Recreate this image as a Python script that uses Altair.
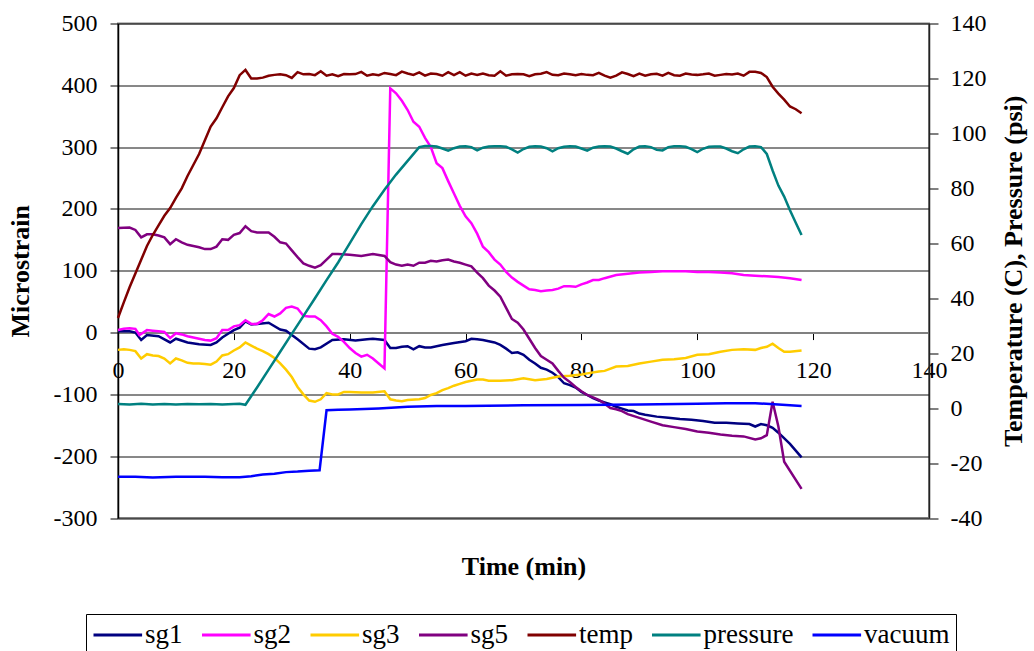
import altair as alt
import pandas as pd

# ---------------- data ----------------
sg1_t = [0, 2, 3, 4, 5, 7, 9, 10, 12, 14, 16, 17, 18, 19, 20, 21, 22, 23, 24, 26, 28, 29, 31, 33, 34, 35, 37, 39, 41, 43, 44, 46, 47, 48, 49, 50, 51, 52,
         53, 54, 56, 58, 60, 61, 62, 63, 64, 65, 66, 67, 68, 69, 70, 71, 72, 73, 74, 75, 76, 77, 78, 79, 80, 81, 82, 83, 84, 85, 86, 87, 88, 89, 90, 91,
         93, 95, 97, 99, 101, 103, 105, 107, 109, 110, 111, 112, 113, 114, 116, 118]
sg1_v = [2, 2, 0, -12, -4, -6, -16, -10, -16, -19, -20, -16, -8, -2, 4, 8, 18, 13, 14, 16, 5, 3, -11, -26, -27, -24, -12, -11, -13, -11, -10, -12, -25, -25, -23, -22, -27, -22,
         -24, -24, -20, -17, -14, -10, -11, -12, -14, -16, -20, -26, -33, -32, -36, -44, -50, -57, -60, -65, -72, -82, -85, -89, -96, -101, -106, -110, -113, -116, -120, -123, -126, -127, -131, -133,
         -136, -138, -140, -141, -143, -146, -146, -147, -148, -152, -148, -150, -154, -162, -180, -202]

sg2_t = [0, 1, 2, 3, 3.7, 5, 6, 7, 8, 9, 10, 11, 12, 13, 14, 15, 16, 17, 18, 19, 20, 21, 22, 23, 24, 25, 26, 27, 28, 29, 30, 31, 32, 33, 34, 35, 36, 37, 38, 39,
         40, 41, 42, 43, 44, 45, 46, 47, 48, 49, 50, 51, 52, 53, 54, 55, 56, 57, 58, 59, 60, 61, 62, 63, 64, 65, 66, 67, 68, 69, 70, 71, 72, 73, 74, 75, 76, 77,
         78, 79, 80, 81, 82, 83, 84, 86, 88, 90, 92, 94, 96, 98, 100, 102, 104, 106, 108, 110, 112, 114, 116, 118]
sg2_v = [4, 6, 7, 6, -4, 4, 3, 2, 1, -9, -1, -3, -6, -8, -10, -12, -13, -9, 4, 4, 10, 12, 20, 14, 14, 20, 30, 26, 31, 40, 42, 39, 27, 26, 26, 20, 10, -2, -7, -15,
         -25, -33, -39, -36, -42, -50, -58, 395, 387, 375, 360, 341, 333, 315, 300, 274, 266, 245, 225, 205, 188, 177, 160, 139, 130, 118, 110, 98, 89, 82, 76, 70, 69, 67, 68, 69, 71, 75,
         75, 74, 78, 81, 85, 85, 88, 93, 95, 97, 98, 99, 99, 99, 98, 98, 97, 96, 93, 92, 91, 90, 88, 85]

sg3_t = [0, 1, 2, 3, 4, 5, 6, 7, 8, 9, 10, 11, 12, 13, 14, 15, 16, 17, 18, 19, 20, 21, 22, 23, 24, 25, 26, 27, 28, 29, 30, 31, 32, 33, 34, 35, 36, 37, 38, 39,
         40, 42, 44, 46, 47, 48, 49, 50, 52, 53, 54, 55, 56, 57, 58, 59, 60, 62, 63, 64, 66, 68, 70, 72, 74, 76, 78, 80, 81, 83, 84, 86, 88, 90, 92, 94, 96, 98,
         100, 102, 104, 106, 108, 110, 111, 112, 113, 114, 115, 116, 118]
sg3_v = [-28, -27, -28, -30, -42, -35, -37, -38, -42, -50, -42, -45, -49, -50, -50, -51, -52, -47, -37, -35, -29, -24, -16, -21, -26, -30, -35, -41, -50, -60, -72, -88, -100, -110, -112, -108, -98, -100, -100, -96,
         -96, -97, -97, -95, -108, -110, -111, -109, -108, -106, -101, -98, -93, -90, -86, -83, -80, -76, -76, -78, -78, -77, -74, -77, -75, -71, -70, -68, -66, -63, -62, -55, -54, -50, -47, -44, -43, -41,
         -36, -35, -31, -28, -27, -28, -25, -23, -18, -25, -31, -31, -29]

sg5_t = [0, 2, 3, 4, 5, 6, 7, 8, 9, 10, 11, 12, 13, 14, 15, 16, 17, 18, 19, 20, 21, 22, 23, 24, 26, 27, 28, 29, 30, 31, 32, 33, 34, 35, 36, 37, 38, 40, 42, 44,
         46, 47, 48, 49, 50, 51, 52, 53, 54, 55, 56, 57, 58, 59, 60, 61, 62, 63, 64, 65, 66, 67, 68, 69, 70, 71, 72, 73, 74, 75, 76, 77, 78, 79, 80, 81, 82, 83,
         84, 85, 86, 87, 88, 90, 92, 94, 96, 98, 100, 102, 104, 106, 108, 110, 111, 112, 113, 114, 115, 118]
sg5_v = [169, 170, 166, 154, 159, 159, 157, 154, 143, 151, 146, 142, 140, 138, 135, 135, 139, 151, 150, 158, 161, 172, 164, 162, 162, 155, 146, 144, 133, 122, 112, 108, 105, 109, 118, 127, 127, 126, 124, 127,
         124, 114, 110, 108, 110, 108, 113, 113, 116, 115, 117, 118, 115, 113, 110, 107, 97, 88, 76, 68, 58, 40, 22, 16, 5, -10, -25, -38, -44, -50, -62, -73, -80, -88, -95, -101, -105, -109,
         -115, -122, -124, -127, -132, -138, -144, -150, -153, -156, -160, -162, -165, -167, -168, -173, -171, -166, -112, -152, -209, -253]

temp_t = list(range(0, 119))
temp_v = [32.8, 38.5, 44, 49, 54, 59, 63, 66.5, 70, 72.8, 76.5, 80, 84.5, 88.5, 92.5, 97.5, 102.5, 105.5, 109.5, 113.5,
          116.5, 121.2, 123.1, 120.0, 120.0, 120.3,
          121.0, 121.3, 121.5, 121.2, 120.2, 122.3, 121.5, 121.6, 121.2, 122.6, 121.0, 121.5, 120.8, 121.6, 121.5, 121.6, 122.4,
          121.0, 121.5, 121.2, 122.0, 121.6, 121.2, 122.5, 121.8, 121.3, 122.2, 121.0, 121.8, 121.6, 121.0, 122.3, 121.2, 122.3,
          121.0, 121.8, 121.3, 121.8, 121.2, 121.0, 122.6, 121.0, 121.5, 121.6, 121.5, 120.8, 121.5, 121.7, 122.3, 121.3, 121.2,
          121.8, 121.5, 121.2, 121.6, 121.3, 121.2, 122.0, 121.0, 120.3, 121.0, 122.2, 121.6, 120.8, 121.8, 121.0, 121.5, 121.7,
          121.0, 122.0, 121.2, 121.0, 121.8, 121.4, 121.3, 121.5, 121.8, 121.0, 121.3, 121.6, 121.4, 121.8, 121.0, 122.4, 122.4,
          122.0, 120.5, 117.0, 114.5, 112.3, 109.8, 108.8, 107.3]

pressure_t = [0, 2, 4, 6, 8, 10, 12, 14, 16, 18, 20, 21, 22, 24, 26, 28, 30, 32, 34, 36, 38, 40, 42, 44, 46, 48, 50] + list(range(52, 119))
pressure_v = [1.5, 1.3, 1.6, 1.3, 1.5, 1.3, 1.5, 1.4, 1.5, 1.3, 1.5, 1.6, 1.2, 7.5, 14, 20.5, 27, 33.5, 40, 46.6, 53, 60, 67, 73.5, 79.5, 85, 90,
              95.0, 95.4, 95.4, 95.2, 94.5, 93.7, 94.6, 95.2, 95.3, 95.0, 93.8, 94.8, 95.2, 95.3, 95.3, 95.1, 94.2, 93.0, 94.3, 95.1,
              95.3, 95.2, 94.6, 93.5, 94.6, 95.1, 95.3, 95.2, 94.5, 93.7, 94.8, 95.2, 95.3, 95.2, 94.5, 93.5, 92.6, 94.2, 95.2, 95.3,
              95.0, 94.0, 93.8, 95.0, 95.3, 95.3, 95.1, 94.3, 93.2, 94.4, 95.1, 95.2, 95.2, 94.5, 93.5, 92.8, 94.2, 95.2, 95.3, 95.0,
              92.5, 86.5, 81, 77, 72, 67.5, 63]

vacuum_t = [0, 3, 6, 10, 15, 18, 21, 23, 25, 27, 29, 31, 33, 34.8, 36, 38, 40, 45, 50, 55, 60, 70, 80, 90, 100, 105, 110, 114, 118]
vacuum_v = [-25, -25, -25.3, -25, -25, -25.2, -25.2, -24.8, -24.2, -23.9, -23.3, -23.1, -22.8, -22.6, -0.8, -0.6, -0.5, -0.1, 0.5, 0.8, 0.8, 1.0, 1.1, 1.3, 1.6, 1.8, 1.8, 1.3, 0.8]

series_order = ["sg1", "sg2", "sg3", "sg5", "temp", "pressure", "vacuum"]
series_colors = ["#000080", "#FF00FF", "#FFCC00", "#800080", "#800000", "#008080", "#0000FF"]
x_ticks = [0, 20, 40, 60, 80, 100, 120, 140]
left_ticks = [-300, -200, -100, 0, 100, 200, 300, 400, 500]
right_ticks = [-40, -20, 0, 20, 40, 60, 80, 100, 120, 140]

def frame(pairs):
    rows = []
    for name, ts, vs in pairs:
        for i, (t, v) in enumerate(zip(ts, vs)):
            rows.append({"time": t, "value": v, "series": name, "idx": i})
    return pd.DataFrame(rows)

left_df = frame([("sg1", sg1_t, sg1_v), ("sg2", sg2_t, sg2_v), ("sg3", sg3_t, sg3_v), ("sg5", sg5_t, sg5_v)])
right_df = frame([("temp", temp_t, temp_v), ("pressure", pressure_t, pressure_v), ("vacuum", vacuum_t, vacuum_v)])

# ---------------- layout ----------------
W, H = 811, 494.5
FONT = "Liberation Serif"
PLAIN = "toString(datum.value)"

color = alt.Color(
    "series:N",
    scale=alt.Scale(domain=series_order, range=series_colors),
    legend=alt.Legend(
        title=None, orient="none", direction="horizontal", columns=7,
        legendX=-32, legendY=590.5,
        symbolType="M-1,0H2.6", symbolSize=729, symbolStrokeWidth=3,
        labelFont=FONT, labelFontSize=27, labelColor="black", labelOffset=23,
        columnPadding=12.5, padding=6, strokeColor="black", fillColor="white",
        cornerRadius=0,
    ),
)

xenc = alt.X(
    "time:Q",
    scale=alt.Scale(domain=[0, 140], nice=False, zero=False),
    axis=alt.Axis(
        values=x_ticks, title="Time (min)", offset=-H * 3 / 8, labelExpr=PLAIN,
        domainColor="#808080", domainWidth=2, tickColor="black", tickSize=7,
        labelPadding=19, labelFont=FONT, labelFontSize=24, labelColor="black",
        labelOverlap=False, labelFlush=False, labelBound=False, grid=False,
        titleFont=FONT, titleFontSize=26, titleFontWeight="bold", titleColor="black",
        titleX=W / 2, titleY=233.5, titleBaseline="middle", titleAlign="center",
    ),
)

left = alt.Chart(left_df).mark_line(strokeWidth=2.5).encode(
    x=xenc,
    y=alt.Y(
        "value:Q",
        scale=alt.Scale(domain=[-300, 500], nice=False, zero=False),
        axis=alt.Axis(
            values=left_ticks, title="Microstrain", grid=True, gridColor="#111111", gridWidth=1,
            domainColor="black", domainWidth=1.5, tickColor="black", tickSize=8, labelPadding=13,
            labelExpr=PLAIN,
            labelFont=FONT, labelFontSize=24, labelColor="black", labelOverlap=False,
            titleFont=FONT, titleFontSize=26, titleFontWeight="bold", titleColor="black",
            titleAngle=270, titleX=-98, titleY=H / 2, titleBaseline="middle", titleAlign="center",
        ),
    ),
    color=color,
    order="idx:Q",
)

right = alt.Chart(right_df).mark_line(strokeWidth=2.5).encode(
    x=xenc,
    y=alt.Y(
        "value:Q",
        scale=alt.Scale(domain=[-40, 140], nice=False, zero=False),
        axis=alt.Axis(
            orient="right", values=right_ticks, title="Temperature (C), Pressure (psi)", grid=False,
            domainColor="#222222", domainWidth=1.5, tickColor="black", tickSize=9, labelPadding=12,
            labelExpr=PLAIN,
            labelFont=FONT, labelFontSize=24, labelColor="black", labelOverlap=False,
            titleFont=FONT, titleFontSize=26, titleFontWeight="bold", titleColor="black",
            titleAngle=270, titleX=84, titleY=H / 2, titleBaseline="middle", titleAlign="center",
        ),
    ),
    color=color,
    order="idx:Q",
)

chart = (
    alt.layer(left, right)
    .resolve_scale(y="independent")
    .properties(
        width=W, height=H,
        padding={"left": 118, "top": 23.5, "right": 105, "bottom": 133},
        autosize=alt.AutoSizeParams(type="none"),
        background="white",
    )
    .configure_view(stroke="#808080", strokeWidth=2)
)

chart.save("out.html", embed_options={"renderer": "svg", "actions": False})
